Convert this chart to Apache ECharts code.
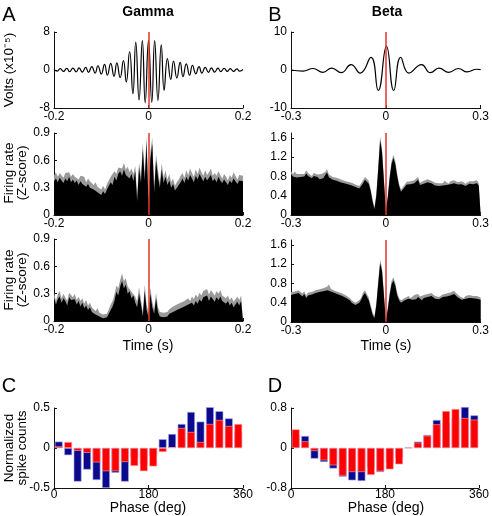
<!DOCTYPE html>
<html><head><meta charset="utf-8">
<script src="https://cdn.jsdelivr.net/npm/echarts@6/dist/echarts.min.js"></script>
<style>html,body{margin:0;padding:0;background:#fff}#c{width:492px;height:516px}</style>
</head><body><div id="c"></div>
<script>
const FONT = "'Liberation Sans', Arial, Helvetica, sans-serif";

// ---- tick labels ----
const gammaTimeTicks = [-0.2, 0, 0.2];
const betaTimeTicks = [-0.3, 0, 0.3];
const gammaVoltTicks = [-8, 0, 8];
const betaVoltTicks = [-10, 0, 10];
const gammaRateTicks = [0, 0.3, 0.6, 0.9];
const betaRateTicks = [0, 0.4, 0.8, 1.2, 1.6];
const phaseTicks = [0, 180, 360];
const gammaPhaseYTicks = [-0.5, 0, 0.5];
const betaPhaseYTicks = [-0.8, 0, 0.8];

// ---- LFP waveforms (extrema; time in ms, volts x1e-5) ----
const gammaWaveT = [-200,-193,-187,-180,-173,-167,-160,-153,-147,-140,-133,-127,-120,-113,-107,-100,-93,-87,-80,-73,-67,-60,-53,-47,-40,-33,-27,-20,-13,-7,0,7,13,20,27,33,40,47,53,60,67,73,80,87,93,100,107,113,120,127,133,140,147,153,160,167,173,180,187,193,200];
const gammaWaveV = [0.10,-0.25,0.30,-0.30,0.35,-0.35,0.40,-0.40,0.45,-0.45,0.55,-0.50,0.70,-0.65,0.90,-0.85,1.20,-1.10,1.40,-1.30,1.50,-1.60,2.00,-2.50,3.90,-5.00,5.90,-6.30,6.20,-6.90,6.20,-6.80,6.20,-6.40,5.30,-4.30,2.40,-2.00,1.90,-1.70,1.60,-1.40,1.30,-1.10,1.00,-0.80,0.70,-0.65,0.55,-0.50,0.45,-0.45,0.40,-0.35,0.35,-0.30,0.30,-0.30,0.25,-0.25,0.10];
const betaWaveT = [-300,-262,-230,-199,-171,-141,-110,-81,-47,-24,2,25,47,73,113,141,168,199,230,257,288,300];
const betaWaveV = [0.0,-0.3,0.4,-0.6,0.5,-0.7,1.4,-0.8,3.3,-5.4,6.2,-5.4,3.3,-0.8,1.4,-0.7,0.5,-0.6,0.4,-0.5,0.2,0.1];

// ---- firing rate histograms (mean and s.e.m.) ----
const gammaBinStart = -0.2, gammaBinWidth = 0.004;
const betaBinStart = -0.3, betaBinWidth = 0.006;
const gammaRate1 = [0.37,0.40,0.36,0.41,0.38,0.35,0.40,0.37,0.42,0.36, 0.39,0.35,0.38,0.33,0.37,0.34,0.36,0.31,0.34,0.30, 0.32,0.28,0.30,0.25,0.27,0.22,0.26,0.23,0.28,0.30, 0.36,0.33,0.42,0.38,0.45,0.48,0.43,0.50,0.44,0.46, 0.40,0.45,0.37,0.48,0.15,0.52,0.35,0.72,0.38,0.80, 0.10,0.62,0.78,0.25,0.60,0.42,0.30,0.50,0.35,0.42, 0.33,0.38,0.30,0.34,0.27,0.30,0.33,0.36,0.40,0.35, 0.42,0.38,0.44,0.40,0.36,0.43,0.39,0.45,0.41,0.37, 0.42,0.38,0.41,0.44,0.37,0.40,0.36,0.42,0.38,0.35, 0.39,0.36,0.33,0.38,0.35,0.40,0.37,0.34,0.38,0.36, 0.37];
const gammaSem1 = [.06,.07,.06,.05,.07,.06,.06,.07,.05,.06, .06,.07,.05,.06,.06,.07,.06,.05,.06,.07, .06,.05,.06,.06,.05,.06,.06,.05,.06,.06, .06,.07,.06,.07,.07,.06,.08,.07,.06,.07, .07,.06,.08,.06,.07,.06,.08,.07,.08,.07, .06,.08,.07,.06,.07,.07,.06,.07,.06,.07, .06,.07,.06,.06,.05,.06,.06,.07,.06,.06, .07,.06,.07,.06,.06,.07,.06,.07,.06,.06, .07,.06,.06,.07,.06,.06,.07,.06,.06,.05, .06,.06,.05,.06,.06,.07,.06,.05,.06,.06, .06];
const gammaRate2 = [0.26,0.18,0.24,0.27,0.20,0.25,0.22,0.17,0.26,0.23, 0.21,0.24,0.18,0.22,0.16,0.20,0.14,0.17,0.12,0.15, 0.10,0.12,0.07,0.09,0.05,0.06,0.03,0.05,0.04,0.08, 0.12,0.16,0.22,0.32,0.28,0.38,0.44,0.36,0.40,0.30, 0.33,0.25,0.28,0.20,0.15,0.30,0.18,0.05,0.33,0.12, 0.04,0.30,0.15,0.08,0.25,0.10,0.05,0.07,0.04,0.06, 0.05,0.08,0.06,0.10,0.09,0.12,0.10,0.14,0.12,0.16, 0.15,0.18,0.16,0.20,0.17,0.22,0.19,0.24,0.21,0.26, 0.24,0.28,0.22,0.27,0.25,0.21,0.26,0.23,0.27,0.22, 0.24,0.19,0.22,0.17,0.20,0.15,0.18,0.21,0.17,0.22, 0.20];
const gammaSem2 = [.05,.04,.05,.06,.05,.05,.06,.05,.05,.06, .05,.06,.05,.05,.06,.05,.05,.06,.05,.05, .05,.05,.04,.05,.04,.05,.04,.04,.04,.05, .06,.06,.07,.07,.08,.07,.08,.08,.07,.08, .07,.07,.06,.07,.06,.07,.06,.05,.07,.06, .05,.07,.06,.05,.06,.05,.05,.05,.05,.05, .05,.05,.05,.06,.05,.06,.06,.06,.06,.06, .06,.07,.06,.07,.07,.07,.07,.07,.07,.07, .07,.07,.07,.07,.07,.07,.07,.07,.07,.06, .06,.06,.06,.06,.06,.06,.06,.06,.06,.06, .06];
const betaRate1 = [0.85,0.80,0.84,0.78,0.82,0.79,0.83,0.80,0.86,0.81, 0.80,0.76,0.81,0.77,0.79,0.74,0.78,0.76,0.83,0.88, 0.78,0.76,0.73,0.75,0.71,0.72,0.68,0.70,0.66,0.67, 0.64,0.65,0.61,0.60,0.58,0.56,0.55,0.58,0.66,0.73, 0.75,0.65,0.50,0.28,0.12,0.40,0.95,1.55,1.30,0.70, 0.10,0.35,0.75,1.05,1.18,1.05,0.80,0.60,0.48,0.50, 0.58,0.63,0.60,0.64,0.62,0.66,0.70,0.73,0.62,0.60, 0.65,0.62,0.68,0.72,0.66,0.63,0.61,0.64,0.60,0.63, 0.61,0.65,0.62,0.60,0.64,0.61,0.66,0.68,0.63,0.61, 0.64,0.62,0.60,0.63,0.65,0.61,0.64,0.62,0.66,0.61, 0.60];
const betaSem1 = [.06,.05,.06,.07,.05,.06,.06,.05,.07,.06, .06,.05,.06,.06,.05,.06,.07,.06,.06,.07, .06,.05,.06,.05,.06,.05,.06,.05,.05,.06, .05,.05,.06,.05,.05,.06,.05,.05,.06,.06, .06,.06,.05,.05,.04,.05,.07,.08,.08,.07, .05,.05,.06,.07,.07,.07,.06,.05,.05,.05, .05,.06,.05,.06,.05,.06,.06,.06,.05,.05, .06,.05,.06,.06,.05,.05,.06,.05,.06,.05, .05,.06,.05,.05,.06,.05,.06,.06,.05,.05, .06,.05,.05,.06,.05,.05,.06,.05,.06,.05, .05];
const betaRate2 = [0.56,0.52,0.58,0.55,0.60,0.57,0.53,0.58,0.50,0.55, 0.52,0.57,0.54,0.60,0.58,0.62,0.59,0.64,0.61,0.66, 0.70,0.63,0.66,0.60,0.62,0.57,0.59,0.54,0.56,0.50, 0.48,0.45,0.40,0.38,0.35,0.36,0.40,0.46,0.55,0.60, 0.58,0.45,0.30,0.15,0.08,0.35,0.80,1.22,1.05,0.55, 0.02,0.25,0.55,0.78,0.86,0.75,0.55,0.45,0.40,0.42, 0.45,0.42,0.48,0.44,0.46,0.50,0.47,0.52,0.48,0.45, 0.50,0.47,0.52,0.49,0.54,0.50,0.48,0.51,0.47,0.50, 0.52,0.49,0.53,0.50,0.55,0.52,0.58,0.54,0.51,0.48, 0.46,0.44,0.48,0.45,0.50,0.47,0.49,0.46,0.48,0.45, 0.46];
const betaSem2 = [.06,.06,.05,.06,.06,.05,.06,.06,.05,.06, .06,.05,.06,.06,.05,.06,.06,.06,.06,.07, .08,.06,.06,.05,.06,.05,.06,.05,.06,.05, .05,.05,.05,.05,.05,.05,.05,.05,.06,.06, .06,.06,.05,.05,.04,.05,.06,.07,.07,.06, .04,.05,.06,.07,.07,.06,.06,.05,.05,.05, .05,.05,.06,.05,.05,.06,.05,.06,.05,.05, .06,.05,.06,.05,.06,.06,.06,.05,.05,.06, .05,.06,.06,.05,.06,.06,.07,.06,.05,.05, .05,.05,.06,.05,.06,.05,.05,.05,.06,.05, .05];

// ---- phase histograms ----
const phaseBins = [9,27,45,63,81,99,117,135,153,171,189,207,225,243,261,279,297,315,333,351];
const gammaPhaseBlue = [0.08,-0.09,-0.42,-0.27,-0.40,-0.50,-0.31,-0.42,-0.12,-0.20,-0.10,0.11,0.175,0.30,0.45,0.33,0.51,0.46,0.37,0.20];
const gammaPhaseRed = [0.02,0.075,-0.035,-0.06,-0.18,-0.29,-0.29,-0.175,-0.225,-0.29,-0.23,-0.05,0.01,0.25,0.20,0.075,0.30,0.35,0.275,0.30];
const betaPhaseBlue = [0.25,0.24,-0.213,-0.28,-0.41,-0.573,-0.647,-0.66,-0.40,-0.48,-0.30,-0.20,0.013,0.127,0.26,0.56,0.50,0.60,0.82,0.653];
const betaPhaseRed = [0.373,0.133,-0.06,-0.247,-0.347,-0.553,-0.48,-0.48,-0.54,-0.467,-0.427,-0.327,0.0,0.107,0.247,0.473,0.74,0.78,0.60,0.567];

// ---- layout ----
const grids = [
  {left:54, top:32, width:189, height:76},
  {left:291, top:32, width:191, height:76},
  {left:54, top:133, width:189, height:82},
  {left:291, top:133, width:191, height:82},
  {left:54, top:239, width:189, height:82},
  {left:291, top:240, width:191, height:82},
  {left:54, top:408, width:189, height:80},
  {left:291, top:408, width:191, height:80}
];
const AX = '#111';
function xAx(g, min, max, ticks, margin) {
  return {type:'value', gridIndex:g, min, max,
    axisLine:{onZero:false, lineStyle:{color:AX, width:1}},
    axisTick:{inside:true, length:3, customValues:ticks, lineStyle:{color:AX}},
    axisLabel:{color:'#000', fontSize:12, fontFamily:FONT, margin:margin, customValues:ticks},
    splitLine:{show:false}};
}
function yAx(g, min, max, ticks) {
  return {type:'value', gridIndex:g, min, max,
    axisLine:{show:true, onZero:false, lineStyle:{color:AX, width:1}},
    axisTick:{show:true, inside:true, length:3, customValues:ticks, lineStyle:{color:AX}},
    axisLabel:{color:'#000', fontSize:12, fontFamily:FONT, margin:4, customValues:ticks},
    splitLine:{show:false}};
}
const redLine = {silent:true, symbol:['none','none'], label:{show:false}, animation:false,
  lineStyle:{color:'#e5332a', width:1.5, type:'solid'}, data:[{xAxis:0}]};

function wave(g, ts, vs) {
  return {type:'line', xAxisIndex:g, yAxisIndex:g, data: ts.map((t,i)=>[t/1000, vs[i]]),
    smooth:0.5, symbol:'none', lineStyle:{color:'#000', width:1.2}, markLine:redLine, z:3};
}
function psth(g, start, bw, mean, sem) {
  const xs = mean.map((_, i) => start + i*bw);
  return [
    {type:'line', xAxisIndex:g, yAxisIndex:g, data: xs.map((x,i)=>[x, mean[i] + sem[i]]),
      symbol:'none', lineStyle:{width:0}, areaStyle:{color:'#9a9a9a', opacity:1}, z:2},
    {type:'line', xAxisIndex:g, yAxisIndex:g, data: xs.map((x,i)=>[x, mean[i]]),
      symbol:'none', lineStyle:{width:0}, areaStyle:{color:'#000', opacity:1}, markLine:redLine, z:3}
  ];
}
function bars(g, blue, red) {
  return [
    {type:'bar', xAxisIndex:g, yAxisIndex:g, data: phaseBins.map((p,i)=>[p, blue[i]]), barWidth:7.8, barGap:'-100%', clip:false,
      itemStyle:{color:'#0a0a8c', borderColor:'#a8a8e8', borderWidth:0.6}},
    {type:'bar', xAxisIndex:g, yAxisIndex:g, data: phaseBins.map((p,i)=>[p, red[i]]), barWidth:7.8, barGap:'-100%', clip:false,
      itemStyle:{color:'#ff0000', borderColor:'#ffaaaa', borderWidth:0.6}}
  ];
}

const chart = echarts.init(document.getElementById('c'), null, {renderer:'canvas'});
const txt = (text, x, y, size, opts={}) => ({type:'text', x, y, rotation: opts.rot||0, silent:true,
  style:{text, fontSize:size, fontFamily:FONT, fontWeight:opts.bold?'bold':'normal', fill:'#000', align:'center', verticalAlign:'middle'}});
const R = Math.PI/2;

chart.setOption({
  animation:false,
  backgroundColor:'#fff',
  grid: grids,
  xAxis: [
    xAx(0,-0.2,0.2,gammaTimeTicks,3), xAx(1,-0.3,0.3,betaTimeTicks,3),
    xAx(2,-0.2,0.2,gammaTimeTicks,3), xAx(3,-0.3,0.3,betaTimeTicks,3),
    xAx(4,-0.2,0.2,gammaTimeTicks,3), xAx(5,-0.3,0.3,betaTimeTicks,3),
    xAx(6,0,360,phaseTicks,1), xAx(7,0,360,phaseTicks,1)
  ],
  yAxis: [
    yAx(0,-8,8,gammaVoltTicks), yAx(1,-10,10,betaVoltTicks),
    yAx(2,0,0.9,gammaRateTicks), yAx(3,0,1.7,betaRateTicks),
    yAx(4,0,0.9,gammaRateTicks), yAx(5,0,1.7,betaRateTicks),
    yAx(6,-0.5,0.5,gammaPhaseYTicks), yAx(7,-0.8,0.8,betaPhaseYTicks)
  ],
  series: [
    wave(0, gammaWaveT, gammaWaveV),
    wave(1, betaWaveT, betaWaveV),
    ...psth(2, gammaBinStart, gammaBinWidth, gammaRate1, gammaSem1),
    ...psth(3, betaBinStart, betaBinWidth, betaRate1, betaSem1),
    ...psth(4, gammaBinStart, gammaBinWidth, gammaRate2, gammaSem2),
    ...psth(5, betaBinStart, betaBinWidth, betaRate2, betaSem2),
    ...bars(6, gammaPhaseBlue, gammaPhaseRed),
    ...bars(7, betaPhaseBlue, betaPhaseRed)
  ],
  graphic: [
    txt('A', 9, 15, 20), txt('B', 275, 15, 20), txt('C', 9, 386, 20), txt('D', 275, 386, 20),
    txt('Gamma', 148, 12, 14, {bold:true}), txt('Beta', 387, 12, 14, {bold:true}),
    txt('Volts (x10\u207B\u2075)', 9, 70, 13.5, {rot:R}),
    txt('Firing rate', 9, 173, 13.5, {rot:R}), txt('(Z-score)', 22, 173, 13.5, {rot:R}),
    txt('Firing rate', 9, 280, 13.5, {rot:R}), txt('(Z-score)', 22, 280, 13.5, {rot:R}),
    txt('Time (s)', 148, 346, 14), txt('Time (s)', 386, 346, 14),
    txt('Normalized', 9, 448, 13.5, {rot:R}), txt('spike counts', 22, 448, 13.5, {rot:R}),
    txt('Phase (deg)', 148, 508, 14), txt('Phase (deg)', 386, 508, 14)
  ]
});
</script></body></html>
